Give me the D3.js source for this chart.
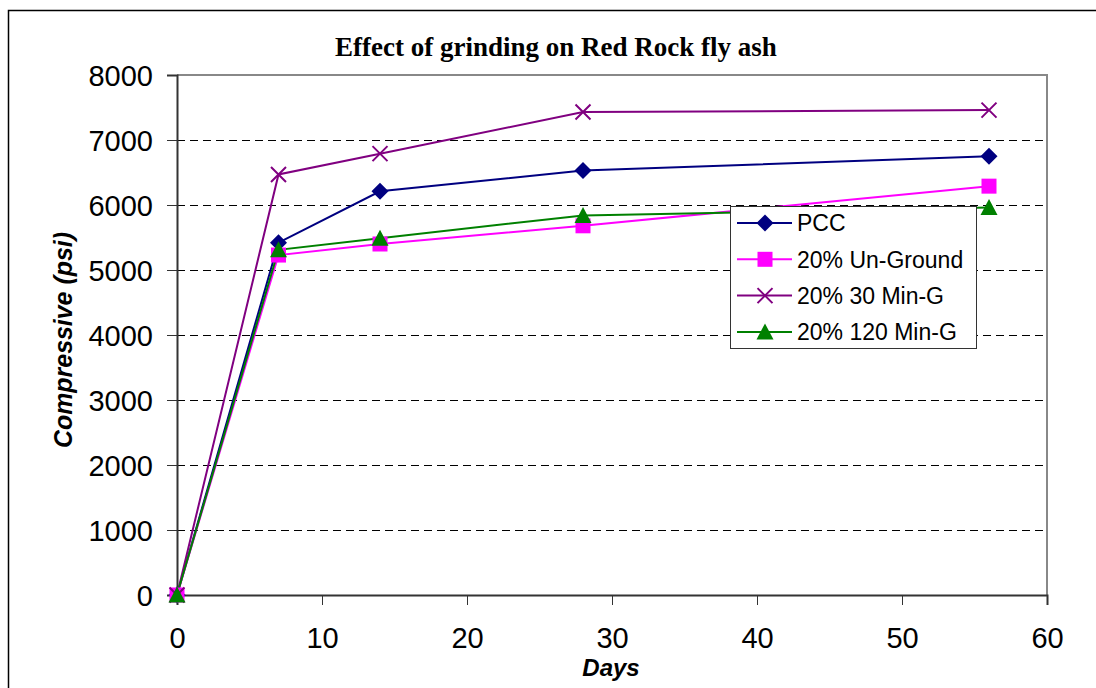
<!DOCTYPE html>
<html>
<head>
<meta charset="utf-8">
<script src="https://cdn.jsdelivr.net/npm/d3@7"></script>
<style>
  body { margin: 0; background: #fff; }
  svg { display: block; font-family: Arial, "Liberation Sans", sans-serif; }
</style>
</head>
<body>
<script>
/*
 * Data.
 */
const days = [0, 7, 14, 28, 56];
const seriesNames = ['PCC', '20% Un-Ground', '20% 30 Min-G', '20% 120 Min-G'];
const pccValues = [0, 5420, 6210, 6530, 6750];
const unGroundValues = [0, 5230, 5400, 5680, 6290];
const min30Values = [0, 6470, 6790, 7430, 7460];
const min120Values = [0, 5310, 5490, 5840, 5960];
const xTicks = [0, 10, 20, 30, 40, 50, 60];
const yTicks = [0, 1000, 2000, 3000, 4000, 5000, 6000, 7000, 8000];

const WIDTH = 1096;
const HEIGHT = 688;
const margin = {left: 177, top: 75, right: 49, bottom: 93};

const series = [
  {name: seriesNames[0], values: pccValues, color: '#000080', marker: 'diamond'},
  {name: seriesNames[1], values: unGroundValues, color: '#ff00ff', marker: 'square'},
  {name: seriesNames[2], values: min30Values, color: '#800080', marker: 'cross'},
  {name: seriesNames[3], values: min120Values, color: '#008000', marker: 'triangle'}
];

const svg = d3.select('body').append('svg')
    .attr('width', WIDTH)
    .attr('height', HEIGHT);

// outer chart frame (right and bottom edges fall outside the picture)
svg.append('rect')
    .attr('x', 8.5).attr('y', 10.5)
    .attr('width', 1100).attr('height', 700)
    .attr('fill', 'none')
    .attr('stroke', '#000')
    .attr('stroke-width', 1.5);

const x = d3.scaleLinear().domain([0, 60]).range([margin.left, WIDTH - margin.right]);
const y = d3.scaleLinear().domain([0, 8000]).range([HEIGHT - margin.bottom, margin.top]);

// gridlines
svg.append('g')
  .selectAll('line')
  .data(yTicks.filter(d => d > 0 && d < 8000))
  .enter()
  .append('line')
    .attr('x1', x(0)).attr('x2', x(60))
    .attr('y1', d => y(d) + 0.5).attr('y2', d => y(d) + 0.5)
    .attr('stroke', '#000')
    .attr('stroke-dasharray', '8,5');

// plot area top/right border
svg.append('path')
    .attr('d', `M${x(0)},${y(8000)}H${x(60)}V${y(0)}`)
    .attr('fill', 'none')
    .attr('stroke', '#888')
    .attr('stroke-width', 2);

// axes
const yAxis = svg.append('g')
    .attr('transform', `translate(${x(0)},0)`)
    .call(d3.axisLeft(y).tickValues(yTicks).tickSize(10).tickPadding(14).tickFormat(d3.format('d')));
const xAxis = svg.append('g')
    .attr('transform', `translate(0,${y(0)})`)
    .call(d3.axisBottom(x).tickValues(xTicks).tickSize(10).tickPadding(22));

[yAxis, xAxis].forEach(a => {
  a.select('.domain').attr('stroke', '#333').attr('stroke-width', 2);
  a.selectAll('.tick line').attr('stroke', '#333').attr('stroke-width', 1);
  a.selectAll('.tick text')
      .attr('fill', '#000')
      .style('font-size', '29px')
      .style('font-family', 'Arial, "Liberation Sans", sans-serif');
});
yAxis.selectAll('.tick text').attr('dy', '0.35em');

// marker drawing
const drawMarker = (g, type, color) => {
  if (type === 'diamond') {
    g.append('path').attr('d', 'M0,-8.5L8.5,0L0,8.5L-8.5,0Z').attr('fill', color);
  } else if (type === 'square') {
    g.append('rect').attr('x', -7.5).attr('y', -7.5).attr('width', 15).attr('height', 15).attr('fill', color);
  } else if (type === 'triangle') {
    g.append('path').attr('d', 'M0,-8.5L8.5,7.5L-8.5,7.5Z').attr('fill', color);
  } else {
    g.append('path').attr('d', 'M-7.5,-7.5L7.5,7.5M-7.5,7.5L7.5,-7.5')
        .attr('stroke', color).attr('stroke-width', 2).attr('fill', 'none');
  }
};

const line = d3.line()
    .x((d, i) => x(days[i]))
    .y(d => y(d));

series.forEach(s => {
  svg.append('path')
      .datum(s.values)
      .attr('d', line)
      .attr('fill', 'none')
      .attr('stroke', s.color)
      .attr('stroke-width', 2);
});
series.forEach(s => {
  s.values.forEach((v, i) => {
    const g = svg.append('g').attr('transform', `translate(${x(days[i])},${y(v)})`);
    drawMarker(g, s.marker, s.color);
  });
});

// legend
const legend = svg.append('g').attr('transform', 'translate(730,206)');
legend.append('rect')
    .attr('x', 0.5).attr('y', 0.5)
    .attr('width', 246).attr('height', 142)
    .attr('fill', '#fff')
    .attr('stroke', '#333')
    .attr('stroke-width', 1);
series.forEach((s, i) => {
  const ly = 17 + i * 36.3;
  legend.append('line')
      .attr('x1', 7).attr('x2', 62)
      .attr('y1', ly).attr('y2', ly)
      .attr('stroke', s.color).attr('stroke-width', 2);
  const g = legend.append('g').attr('transform', `translate(35,${ly})`);
  drawMarker(g, s.marker, s.color);
  legend.append('text')
      .attr('x', 67).attr('y', ly)
      .attr('dy', '0.36em')
      .style('font-size', '23px')
      .text(s.name);
});

// title
svg.append('text')
    .attr('x', 556).attr('y', 56)
    .attr('text-anchor', 'middle')
    .style('font-family', '"Liberation Serif", "Times New Roman", serif')
    .style('font-weight', 'bold')
    .style('font-size', '27px')
    .text('Effect of grinding on Red Rock fly ash');

// axis titles
svg.append('text')
    .attr('transform', 'translate(72,340) rotate(-90)')
    .attr('text-anchor', 'middle')
    .attr('textLength', 216)
    .attr('lengthAdjust', 'spacingAndGlyphs')
    .style('font-weight', 'bold')
    .style('font-style', 'italic')
    .style('font-size', '25px')
    .text('Compressive (psi)');

svg.append('text')
    .attr('x', 611).attr('y', 676)
    .attr('text-anchor', 'middle')
    .style('font-weight', 'bold')
    .style('font-style', 'italic')
    .style('font-size', '24px')
    .text('Days');
</script>
</body>
</html>
